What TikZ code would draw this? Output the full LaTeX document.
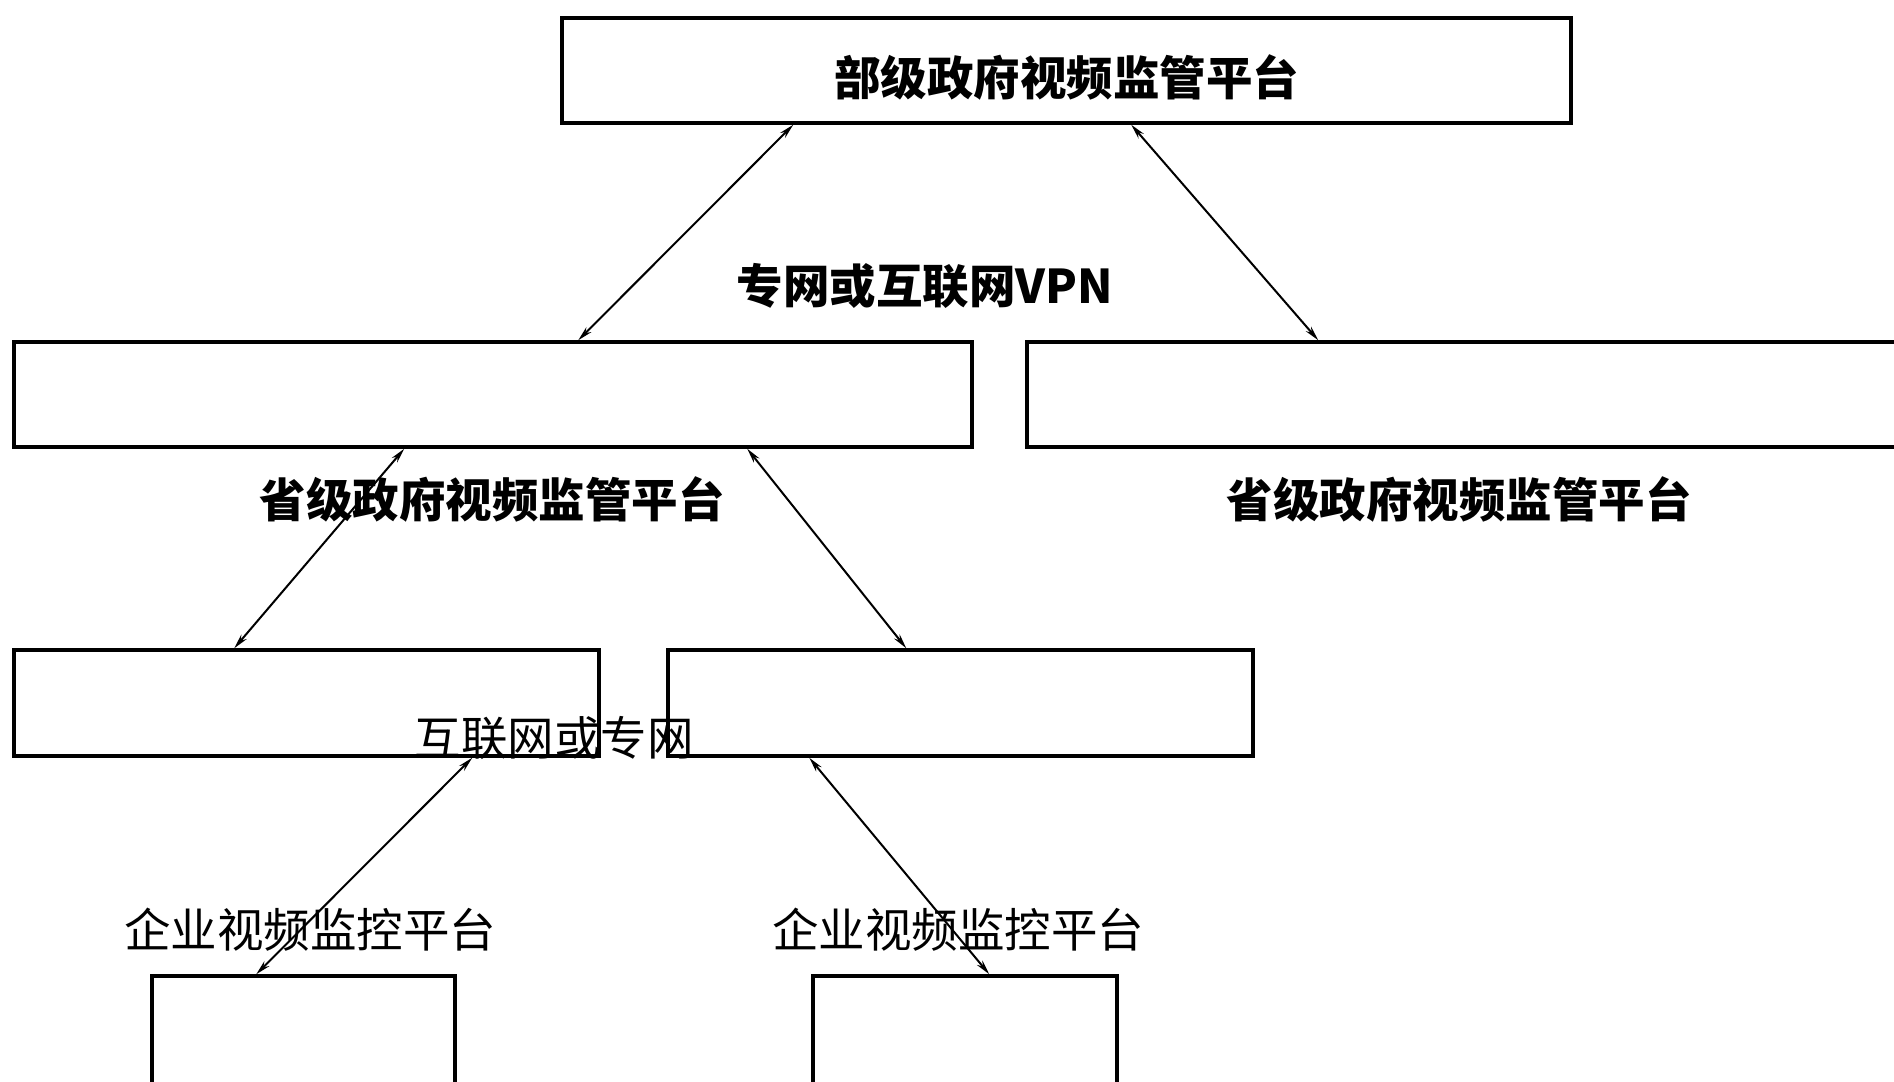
\documentclass[tikz,border=0pt]{standalone}
\usepackage{fontspec}
\newfontfamily\cjk{Noto Sans CJK SC}
\usepackage{tikz}
\usetikzlibrary{calc,arrows,arrows.meta,positioning}
\tikzset{
  plat/.style={draw, line width=3.5pt, fill=white, text centered, minimum height=105pt, inner sep=0pt},
  lab/.style={font=\cjk\fontsize{46.5}{50}\selectfont, inner sep=0pt},
  blab/.style={font=\cjk\bfseries\fontsize{46.5}{50}\selectfont, inner sep=0pt},
  link/.style={{Stealth[length=15pt,width=7pt]}-{Stealth[length=15pt,width=7pt]}, line width=2pt}
}
\begin{document}
\begin{tikzpicture}[x=1pt, y=-1pt]
    \useasboundingbox (0,0) rectangle (1894,1081);
    \clip (0,0) rectangle (1894,1081);
    \node[plat, minimum width=1009pt, blab, text height=55pt, text depth=5pt] (bu) at (1066.5,70.5) {部级政府视频监管平台};
    \node[plat, minimum width=958pt] (shengA) at (493,394.5) {};
    \node[plat, minimum width=946pt] (shengB) at (1500,394.5) {};
    \node[plat, minimum width=585pt, minimum height=106pt] (shiA) at (306.5,703) {};
    \node[plat, minimum width=585pt, minimum height=106pt] (shiB) at (960.5,703) {};
    \node[plat, minimum width=303pt, minimum height=128pt] (qiA) at (303.5,1040) {};
    \node[plat, minimum width=304pt, minimum height=128pt] (qiB) at (965,1040) {};
    \node[blab] (vpn) at (925,286) {专网或互联网VPN};
    \node[blab] (labA) at (492,499) {省级政府视频监管平台};
    \node[blab] (labB) at (1459,499) {省级政府视频监管平台};
    \draw[link] ($(bu.south west)+(233,0)$) -- ($(shengA.north west)+(566,0)$);
    \draw[link] ($(bu.south west)+(571,0)$) -- ($(shengB.north west)+(293,0)$);
    \draw[link] ($(shengA.south west)+(392,0)$) -- ($(shiA.north west)+(222,0)$);
    \draw[link] ($(shengA.south west)+(735,0)$) -- ($(shiB.north west)+(240,0)$);
    \draw[link] ($(shiA.south west)+(460,0)$) -- ($(qiA.north west)+(106,0)$);
    \draw[link] ($(shiB.south west)+(143,0)$) -- ($(qiB.north west)+(178,0)$);
    \node[lab] (net) at (554,738) {互联网或专网};
    \node[lab] (qlabA) at (310,930) {企业视频监控平台};
    \node[lab] (qlabB) at (958,930) {企业视频监控平台};
\end{tikzpicture}
\end{document}
